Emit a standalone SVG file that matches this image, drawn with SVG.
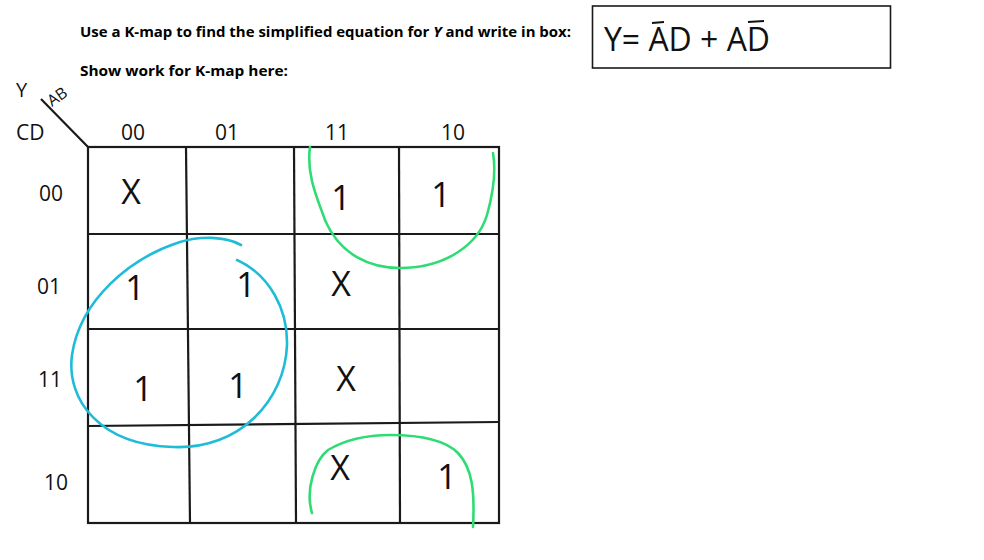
<svg xmlns="http://www.w3.org/2000/svg" width="984" height="560" viewBox="0 0 984 560">
<style>
.hdr{font-family:"Open Sans",Lato,"Liberation Sans",sans-serif;font-weight:bold;font-size:15px;fill:#000}
.hw{font-family:"Open Sans","DejaVu Sans","Liberation Sans",sans-serif;font-weight:400;fill:#111}
.grid{stroke:#1a1a1a;stroke-width:2.2;fill:none}
.cyan{stroke:#1fbcd8;stroke-width:2.6;fill:none;stroke-linecap:round}
.green{stroke:#2fdc73;stroke-width:2.6;fill:none;stroke-linecap:round}
.bar{stroke:#111;stroke-width:2}
</style>
<rect width="984" height="560" fill="#fff"/>
<g id="header">
<text class="hdr" x="80" y="37" textLength="491" lengthAdjust="spacingAndGlyphs">Use a K-map to find the simplified equation for <tspan font-style="italic">Y</tspan> and write in box:</text>
<text class="hdr" x="80" y="76" textLength="208" lengthAdjust="spacingAndGlyphs">Show work for K-map here:</text>
</g>
<g id="answer">
<rect x="592.5" y="6" width="298" height="62" fill="none" stroke="#1a1a1a" stroke-width="1.6"/>
<text class="hw" x="604" y="51" font-size="32" textLength="166" lengthAdjust="spacingAndGlyphs">Y= AD + AD</text>
<line class="bar" x1="652" y1="23" x2="664" y2="22"/>
<line class="bar" x1="748" y1="22" x2="764" y2="21"/>
</g>
<g id="corner">
<line class="grid" x1="41" y1="99" x2="88" y2="147"/>
<text class="hw" x="16" y="97" font-size="20">Y</text>
<text class="hw" x="52" y="107" font-size="16" transform="rotate(-35 52 107)">AB</text>
<text class="hw" x="16" y="140" font-size="21">CD</text>
</g>
<g id="col-labels" class="hw" font-size="21" text-anchor="middle">
<text x="133" y="140">00</text>
<text x="227" y="140">01</text>
<text x="337" y="140">11</text>
<text x="453" y="140">10</text>
</g>
<g id="row-labels" class="hw" font-size="21" text-anchor="middle">
<text x="51" y="201">00</text>
<text x="49" y="294">01</text>
<text x="50" y="387">11</text>
<text x="56" y="490">10</text>
</g>
<g id="kmap-grid">
<rect class="grid" x="88" y="147" width="411" height="376"/>
<line class="grid" x1="186" y1="147" x2="190" y2="523"/>
<line class="grid" x1="294" y1="147" x2="296" y2="523"/>
<line class="grid" x1="399" y1="147" x2="400" y2="523"/>
<line class="grid" x1="88" y1="234" x2="499" y2="234"/>
<line class="grid" x1="88" y1="329" x2="499" y2="329"/>
<line class="grid" x1="88" y1="426" x2="499" y2="422"/>
</g>
<g id="cells" class="hw" font-size="34" text-anchor="middle">
<text x="131" y="204">X</text>
<text x="341" y="210">1</text>
<text x="441" y="207">1</text>
<text x="135" y="300">1</text>
<text x="246" y="297">1</text>
<text x="341" y="296">X</text>
<text x="143" y="401">1</text>
<text x="238" y="398">1</text>
<text x="346" y="391">X</text>
<text x="340" y="480">X</text>
<text x="447" y="489">1</text>
</g>
<g id="connectors">
<path class="green" d="M310,147 C306,175 318,200 325,220 C340,255 370,268 400,268 C445,268 478,245 487,215 C494,190 496,170 493,153"/>
<path class="cyan" d="M241,245 C225,236 200,236 180,242 C130,258 80,300 72,355 C66,400 100,445 173,447 C240,450 285,400 287,345 C288,310 270,275 237,260"/>
<path class="green" d="M312,513 C305,490 315,460 328,450 C350,437 375,435 390,435 C420,435 445,440 458,453 C472,468 475,490 473,527"/>
</g>
</svg>
